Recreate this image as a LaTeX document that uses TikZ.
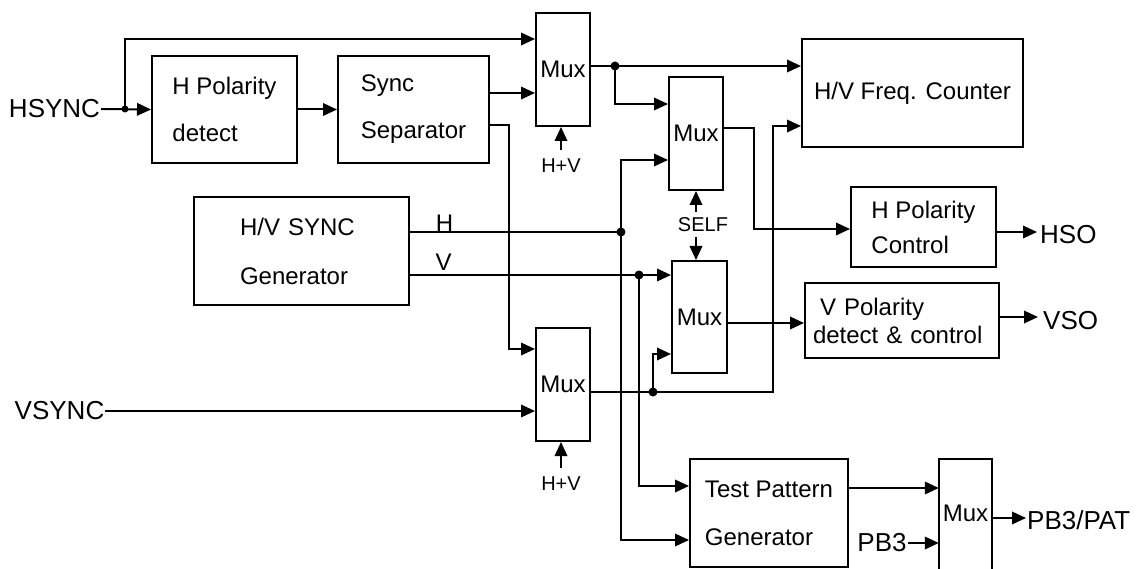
\documentclass[tikz,border=0pt]{standalone}
\usepackage{fontspec}
\setmainfont{Liberation Sans}
\usetikzlibrary{arrows.meta}
\begin{document}
\begin{tikzpicture}[x=1pt,y=-1pt,
  wire/.style={line width=2pt},
  arr/.style={wire,-{Triangle[length=14pt,width=12.5pt]}},
  box/.style={draw,line width=2pt,inner sep=0pt,align=left,font=\fontsize{24}{47}\selectfont},
  muxbox/.style={draw,line width=2pt,inner sep=0pt,minimum width=54pt,minimum height=113pt,font=\fontsize{24}{28}\selectfont},
  big/.style={inner sep=1pt,font=\fontsize{26}{30}\selectfont},
  small/.style={inner sep=3pt,font=\fontsize{20}{24}\selectfont},
  sig/.style={inner sep=1pt,font=\fontsize{24}{28}\selectfont}]
\useasboundingbox (0,0) rectangle (1138,569);

% blocks
\node[box,minimum width=145pt,minimum height=107pt] (hpd) at (224.5,109.5) {H Polarity\\detect};
\node[box,minimum width=151pt,minimum height=107pt] (ssep) at (413.5,109.5) {Sync\\Separator};
\node[muxbox] (mux1) at (563,69.5) {Mux};
\node[muxbox] (mux2) at (696,133.5) {Mux};
\node[box,minimum width=221pt,minimum height=108pt,font=\fontsize{24}{28}\selectfont] (fc) at (912.5,93) {H/V Freq. Counter};
\node[box,minimum width=145pt,minimum height=80pt,font=\fontsize{24}{35}\selectfont] (hpc) at (923.5,227) {H Polarity\\Control};
\node[box,minimum width=215pt,minimum height=108pt,font=\fontsize{24}{49}\selectfont,text width=123pt] (gen) at (301.5,251) {H/V SYNC\\Generator};
\node[muxbox,minimum width=55pt,minimum height=112pt] (mux4) at (699.5,317) {Mux};
\node[box,minimum width=194pt,minimum height=75pt,font=\fontsize{24}{28}\selectfont,text width=178pt] (vpc) at (902,320.5) {\hspace*{7pt}V Polarity\\detect \& control};
\node[muxbox] (mux3) at (563,384.5) {Mux};
\node[box,minimum width=158pt,minimum height=108pt,font=\fontsize{24}{48}\selectfont] (tpg) at (769,513) {Test Pattern\\Generator};
\node[inner sep=0pt,minimum width=53pt,minimum height=108pt,font=\fontsize{24}{28}\selectfont] (mux5) at (965.5,513) {Mux};
\draw[line width=2pt] ([yshift=-25pt]mux5.south west) -- (mux5.north west) -- (mux5.north east) -- ([yshift=-25pt]mux5.south east);

% labels
\node[big] (hsync) at (54.5,109) {HSYNC};
\node[big] (vsync) at (59.5,411) {VSYNC};
\node[big,anchor=west] (hso) at (1039,235) {HSO};
\node[big,anchor=west] (vso) at (1042,321) {VSO};
\node[big,anchor=west] (pbpat) at (1026,520) {PB3/PAT};
\node[big] (pb3) at (882,543) {PB3};
\node[sig] (hlab) at (444.5,223) {H};
\node[sig] (vlab) at (443.5,262) {V};
\node[small] (hv1) at (561,166) {H+V};
\node[small] (hv2) at (561,484) {H+V};
\node[small] (self) at (703,224.5) {SELF};

% coordinates
\coordinate (j1) at (125,109);
\coordinate (t1) at (125,39);
\coordinate (ss1) at (510,93);
\coordinate (ss2) at (509,125);
\coordinate (ss3) at (509,349);
\coordinate (j2) at (615,66);
\coordinate (j2b) at (615,104);
\coordinate (m2o) at (754,128);
\coordinate (m2b) at (754,229);
\coordinate (hsoa) at (1037,232);
\coordinate (vsoa) at (1038,317);
\coordinate (hdot) at (621,232);
\coordinate (hvtop) at (621,160);
\coordinate (hvbot) at (621,540);
\coordinate (vdot) at (639,275);
\coordinate (vbot) at (639,486);
\coordinate (m3dot) at (653,392);
\coordinate (m4b) at (653,354);
\coordinate (fcb) at (773,392);
\coordinate (fct) at (773,126);
\coordinate (vp) at (760,323);
\coordinate (tp) at (890,488);
\coordinate (pa) at (1010,518);

% connectors
\draw[arr] (hsync.east) -- (hpd.west);
\draw[arr] (j1) -- (t1) -- (mux1.west |- t1);
\draw[arr] (hpd.east) -- (ssep.west);
\draw[arr] (ssep.east |- ss1) -- (mux1.west |- ss1);
\draw[arr] (ssep.east |- ss2) -- (ss2) -- (ss3) -- (mux3.west |- ss3);
\draw[arr] (mux1.east |- j2) -- (fc.west |- j2);
\draw[arr] (j2) -- (j2b) -- (mux2.west |- j2b);
\draw[arr,shorten <=6pt] (hv1.north) -- (hv1.north |- mux1.south);
\draw[arr,shorten <=6pt] (hv2.north) -- (hv2.north |- mux3.south);
\draw[arr] (mux2.east |- m2o) -- (m2o) -- (m2b) -- (hpc.west |- m2b);
\draw[arr] (hpc.east |- hsoa) -- (hsoa);
\draw[arr] (vpc.east |- vsoa) -- (vsoa);
\draw[wire] (gen.east |- hdot) -- (hdot);
\draw[arr] (hdot) -- (hvtop) -- (mux2.west |- hvtop);
\draw[arr] (hdot) -- (hvbot) -- (tpg.west |- hvbot);
\draw[arr] (gen.east |- vdot) -- (mux4.west |- vdot);
\draw[arr] (vdot) -- (vbot) -- (tpg.west |- vbot);
\draw[arr] (vsync.east) -- (mux3.west |- vsync.east);
\draw[arr] (mux3.east |- m3dot) -- (fcb) -- (fct) -- (fc.west |- fct);
\draw[arr] (m3dot) -- (m4b) -- (mux4.west |- m4b);
\draw[arr] (mux4.east |- vp) -- (vpc.west |- vp);
\draw[arr,shorten <=2pt] (mux2.south |- self.north) -- (mux2.south);
\draw[arr,shorten <=2pt] (mux2.south |- self.south) -- (mux2.south |- mux4.north);
\draw[arr] (tpg.east |- tp) -- (mux5.west |- tp);
\draw[arr] (pb3.east) -- (mux5.west |- pb3.east);
\draw[arr] (mux5.east |- pa) -- (pbpat.west |- pa);

% junction dots
\fill (j1) circle (3.5pt);
\fill (j2) circle (4.5pt);
\fill (hdot) circle (4.5pt);
\fill (vdot) circle (4.5pt);
\fill (m3dot) circle (4.5pt);
\end{tikzpicture}
\end{document}
